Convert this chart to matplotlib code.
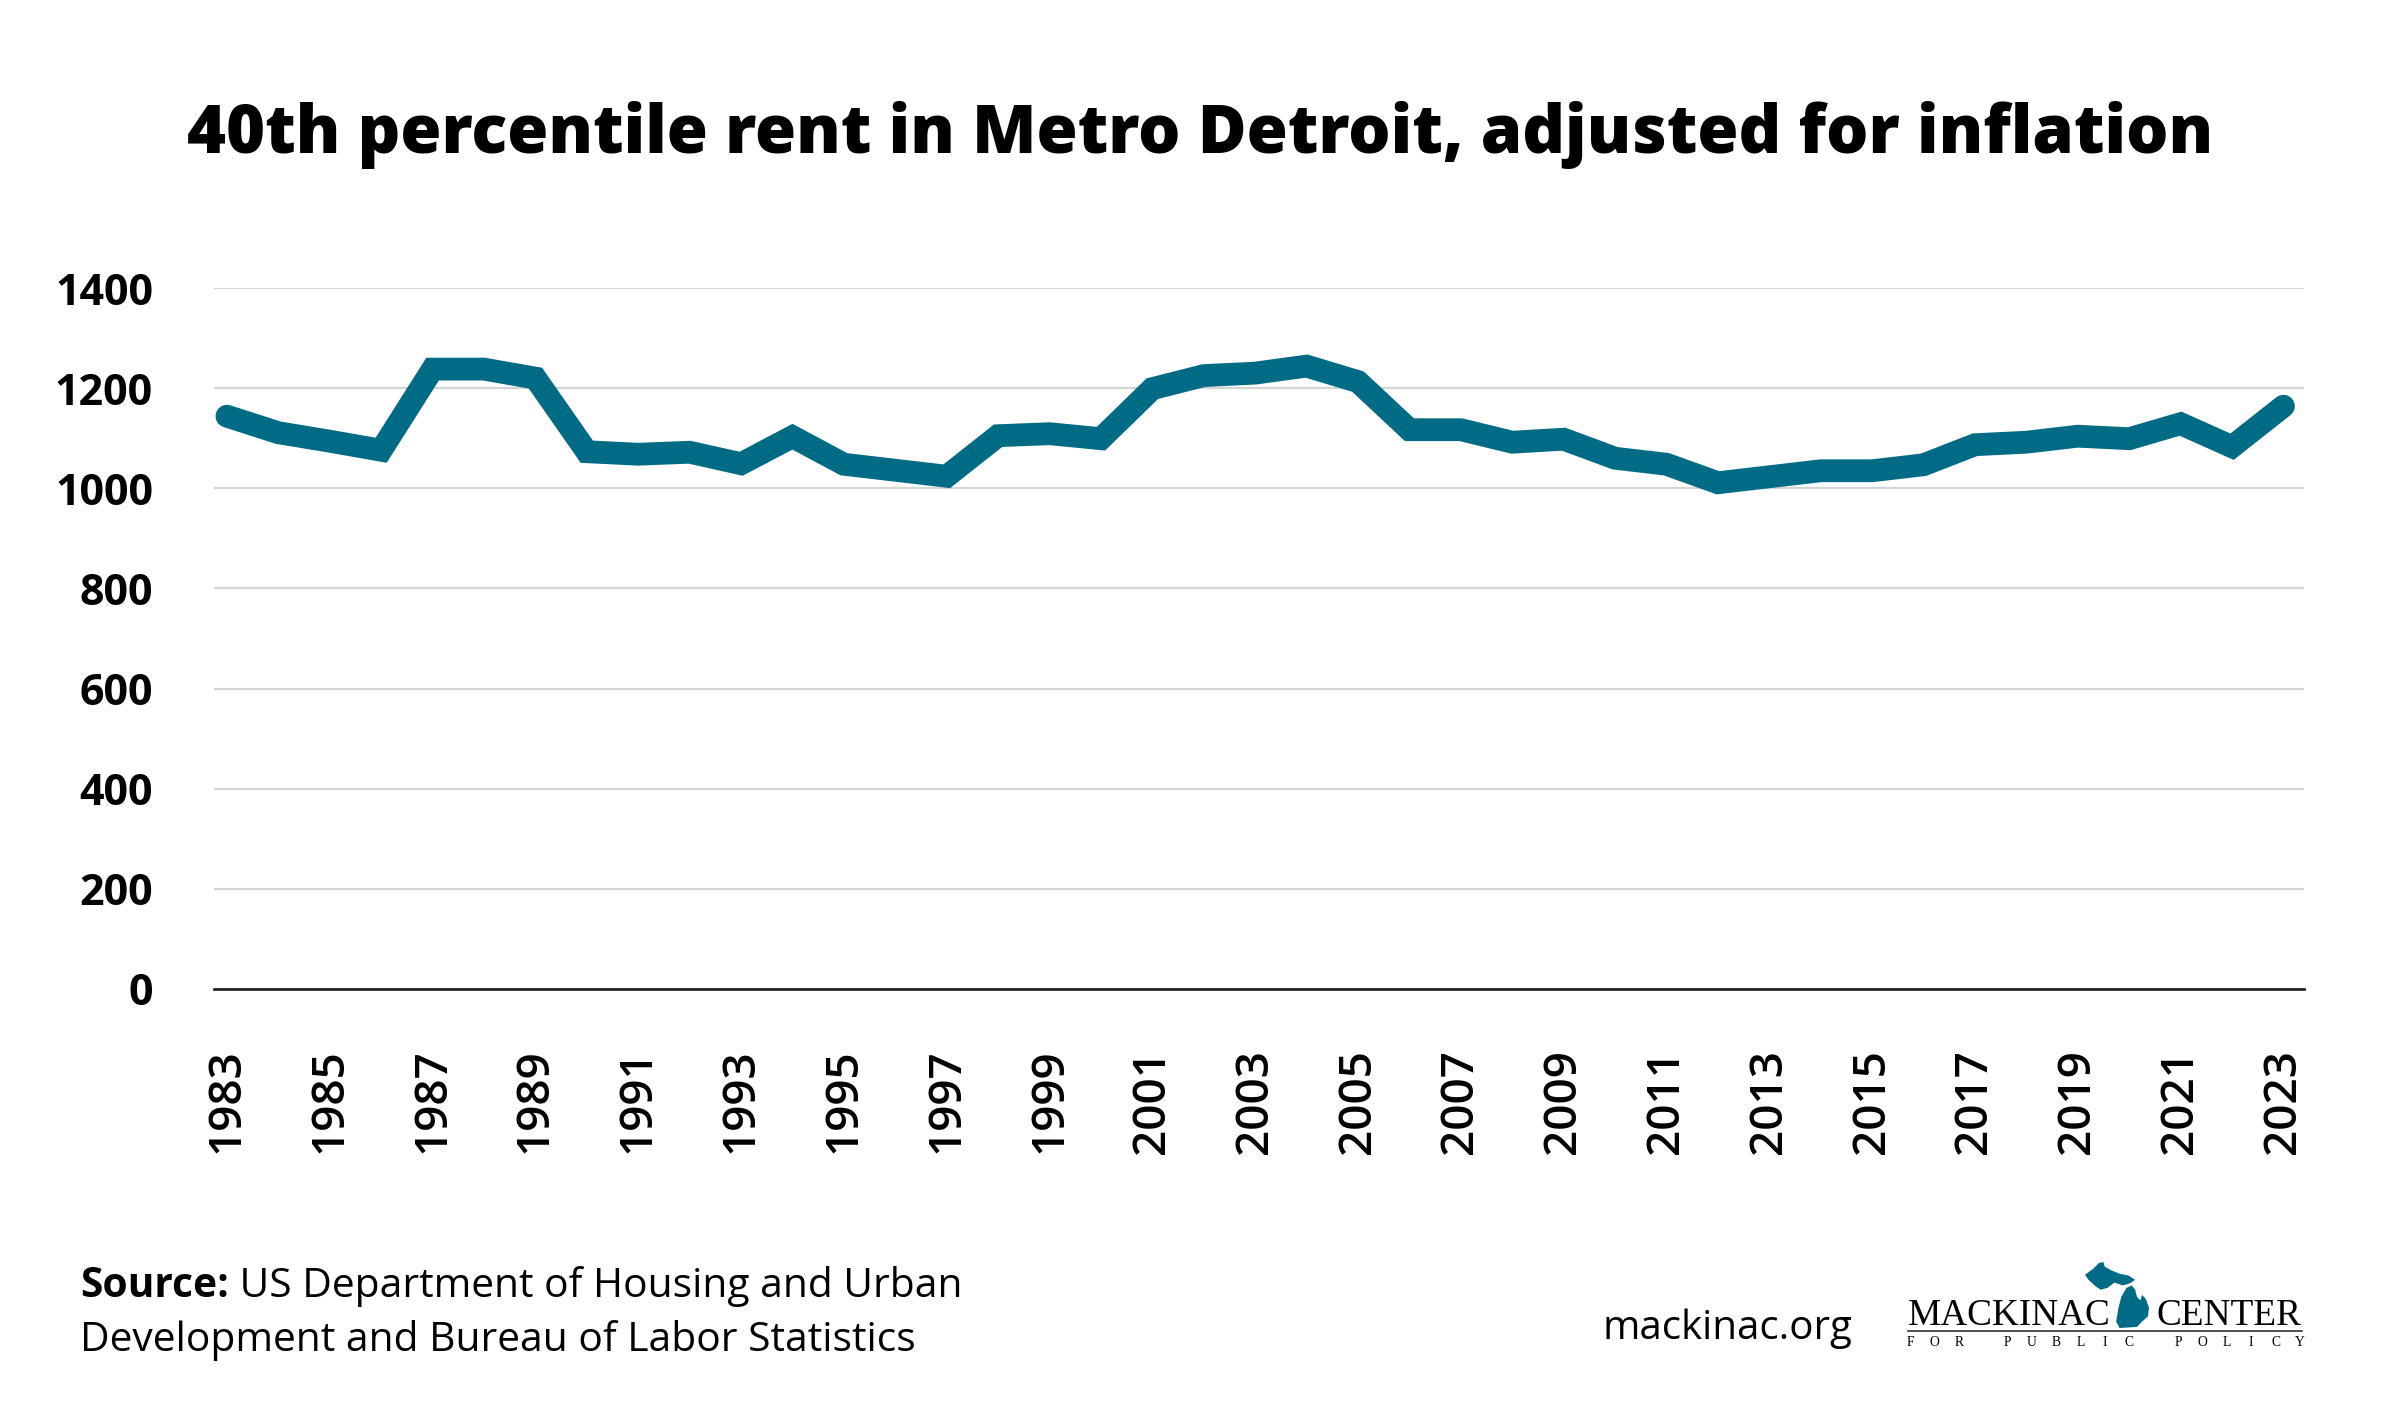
#! /usr/bin/env python
import numpy as np
import matplotlib
matplotlib.use("Agg")
import matplotlib.pyplot as plt
from matplotlib.patches import Polygon
from matplotlib.lines import Line2D

# values
years = list(range(1983, 2024))
rent = [1144, 1111, 1094, 1076, 1238, 1238, 1220, 1073, 1068, 1072,
        1049, 1103, 1048, 1036, 1024, 1105, 1109, 1099, 1199, 1225,
        1230, 1244, 1213, 1117, 1117, 1092, 1098, 1060, 1048, 1011,
        1023, 1035, 1035, 1047, 1087, 1092, 1104, 1099, 1129, 1083,
        1164]
yticks = [0, 200, 400, 600, 800, 1000, 1200, 1400]
xticks = list(range(1983, 2024, 2))

title = "40th percentile rent in Metro Detroit, adjusted for inflation"
source_bold = "Source:"
source_rest = [" US Department of Housing and Urban",
               "Development and Bureau of Labor Statistics"]
site = "mackinac.org"

teal = "#006b84"
plt.rcParams["font.family"] = ["Open Sans", "DejaVu Sans"]

fig = plt.figure(figsize=(12, 7.08), dpi=200)
ax = fig.add_axes([0.0892, 0.3016, 0.8708, 0.495])

ax.plot(years, rent, color=teal, lw=8.2, solid_capstyle="round",
        solid_joinstyle="miter", clip_on=False, zorder=3)

ax.set_ylim(0, 1400)
ax.set_xlim(1982.75, 2023.4)
ax.set_yticks(yticks)
ax.set_xticks(xticks)
ax.set_xticklabels([str(x) for x in xticks], rotation=90, fontsize=16.5,
                   fontweight="semibold")
ax.set_yticklabels([str(y) for y in yticks], fontsize=15.5, fontweight="bold")
ax.tick_params(axis="both", length=0)
ax.tick_params(axis="y", pad=22)
ax.tick_params(axis="x", pad=21.5)
ax.grid(axis="y", color="#d4d4d4", lw=0.8)
ax.grid(axis="x", visible=False)
for s in ["top", "right", "left"]:
    ax.spines[s].set_visible(False)
ax.spines["bottom"].set_color("#262626")
ax.spines["bottom"].set_linewidth(1.0)
ax.set_axisbelow(True)

fig.text(0.5, 0.892, title, ha="center", va="baseline", fontsize=24,
         fontweight="heavy")

# source note
t1 = fig.text(0.0333, 0.0912, source_bold, ha="left", va="center",
              fontsize=14.7, fontweight="bold")
fig.canvas.draw()
bb = t1.get_window_extent()
x1 = bb.x1 / fig.bbox.width
fig.text(x1, 0.0912, source_rest[0], ha="left", va="center", fontsize=14.7)
fig.text(0.0333, 0.053, source_rest[1], ha="left", va="center",
         fontsize=14.7)

fig.text(0.772, 0.0544, site, ha="right", va="baseline", fontsize=14.5)

# logo
serif = ["Liberation Serif", "DejaVu Serif"]
fig.text(1908 / 2400, 0.0643, "MACKINAC", ha="left", va="baseline",
         fontsize=13.4, family=serif)
fig.text(2301 / 2400, 0.0643, "CENTER", ha="right", va="baseline",
         fontsize=13.4, family=serif)
fig.add_artist(Line2D([1908 / 2400, 2302 / 2400], [0.06, 0.06],
                      color="#333333", lw=0.6, transform=fig.transFigure))
letters = "FOR PUBLIC POLICY"
lx = np.linspace(1910 / 2400, 2300 / 2400, len(letters))
for ch, xx in zip(letters, lx):
    if ch != " ":
        fig.text(xx, 0.052, ch, ha="center", va="center", fontsize=4.9,
                 family=serif)

upper = [(615, 48), (640, 30), (655, 15), (668, 12), (672, 25), (690, 35),
         (715, 45), (740, 50), (760, 62), (745, 72), (725, 78), (700, 70),
         (680, 85), (660, 90), (645, 80), (625, 62)]
lower = [(705, 180), (712, 140), (720, 110), (735, 85), (750, 78),
         (760, 90), (765, 110), (775, 120), (780, 105), (790, 115),
         (800, 140), (797, 165), (780, 180), (765, 195), (715, 198)]
x0, y0, w, h = 2085 / 2400, 1 - 1328 / 1416, 64 / 2400, 66 / 1416
for poly in (upper, lower):
    pts = [(x0 + (px - 615) / 185 * w, y0 + (1 - (py - 12) / 186) * h)
           for px, py in poly]
    fig.add_artist(Polygon(pts, closed=True, color=teal, lw=0,
                           transform=fig.transFigure))

fig.savefig("out.png", dpi=200, facecolor="white")
